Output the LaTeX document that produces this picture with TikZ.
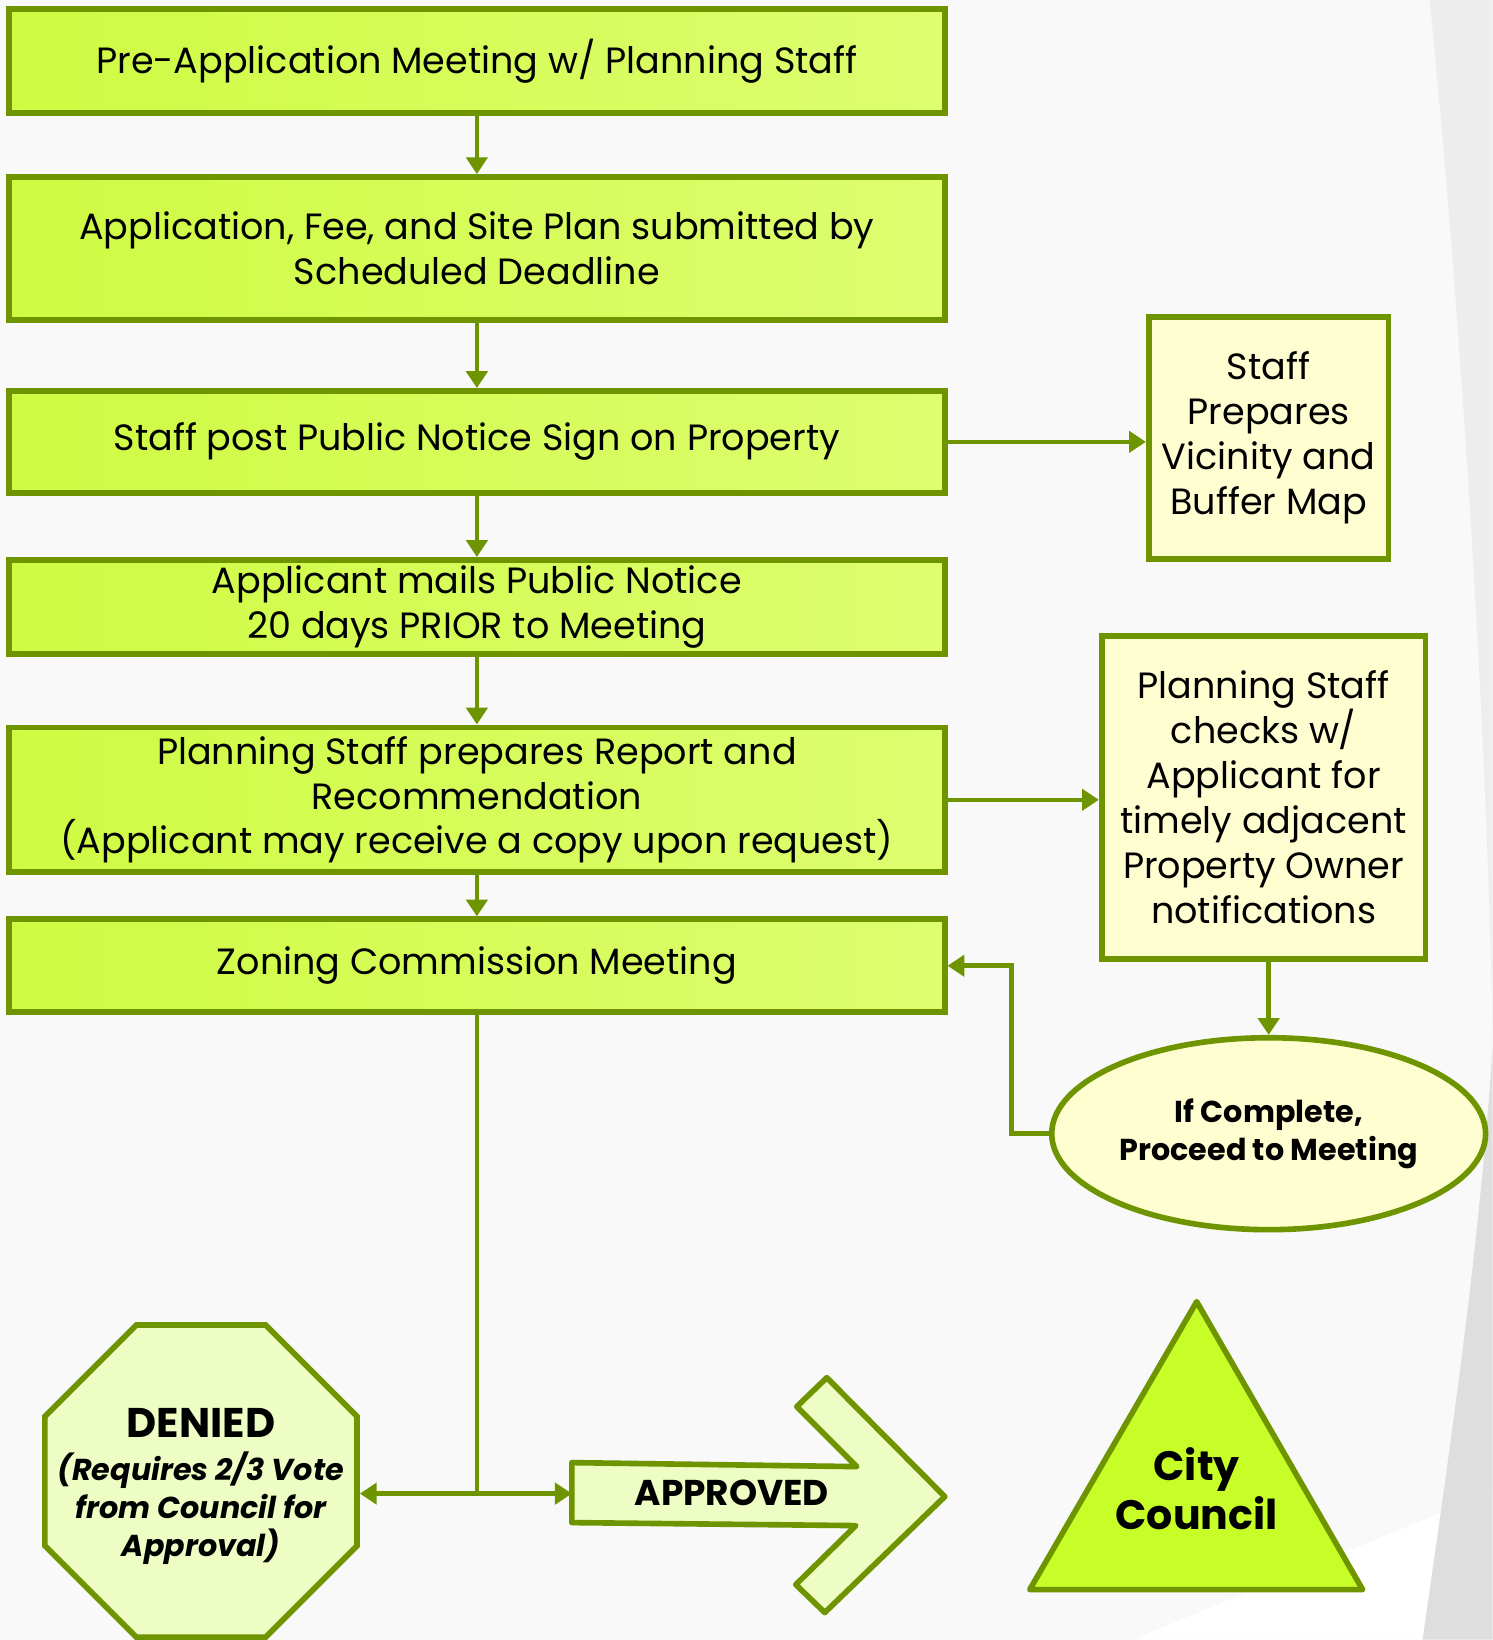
\documentclass[tikz,border=0pt]{standalone}
\usepackage{fontspec}
\setmainfont{Poppins}
\usepackage{tikz}
\usetikzlibrary{arrows.meta,shapes.geometric}
\definecolor{olivebd}{RGB}{110,148,0}
\definecolor{limefill}{RGB}{206,251,66}
\definecolor{limelight}{RGB}{222,253,112}
\definecolor{paleyel}{RGB}{254,254,208}
\definecolor{palegrn}{RGB}{238,253,196}
\definecolor{trifill}{RGB}{200,254,40}
\definecolor{bgray}{RGB}{249,249,249}

\begin{document}
\begin{tikzpicture}[x=0.1mm,y=-0.1mm,
    stepbox/.style={draw=olivebd,line width=1.6pt,left color=limefill,right color=limelight,minimum width=93.6mm,inner sep=0pt,align=center,font=\fontsize{10.4}{12.8}\selectfont},
    sidebox/.style={draw=olivebd,line width=1.6pt,fill=paleyel,inner sep=0pt,align=center,font=\fontsize{10.4}{12.8}\selectfont},
    arr/.style={olivebd,line width=1.3pt,-{Triangle[length=4.8pt,width=6pt]}}]
		\fill[bgray] (0,0) rectangle (1493,1640);
		\fill[black!7] (1430,0) .. controls (1465,350) and (1490,800) .. (1493,1046) -- (1493,0) -- cycle;
		\fill[white] (1133,1640) -- (1493,1492) -- (1493,1640) -- cycle;
		\fill[black!13] (1493,1046) .. controls (1480,1250) and (1450,1450) .. (1423,1640) -- (1493,1640) -- cycle;
		\node[stepbox,minimum height=10.4mm] (pre) at (477,61) {Pre-Application Meeting w/ Planning Staff};
		\node[stepbox,minimum height=14.3mm] (app) at (477,248.5) {Application, Fee, and Site Plan submitted by\\Scheduled Deadline};
		\node[stepbox,minimum height=10.2mm] (post) at (477,442) {Staff post Public Notice Sign on Property};
		\node[stepbox,minimum height=9.4mm] (mail) at (477,607) {Applicant mails Public Notice\\20 days PRIOR to Meeting};
		\node[stepbox,minimum height=14.5mm] (report) at (477,800) {Planning Staff prepares Report and\\Recommendation\\(Applicant may receive a copy upon request)};
		\node[stepbox,minimum height=9.3mm] (zoning) at (477,966) {Zoning Commission Meeting};
		\node[sidebox,minimum width=24mm,minimum height=24.2mm] (vic) at (1269,438) {Staff\\Prepares\\Vicinity and\\Buffer Map};
		\node[sidebox,minimum width=32.4mm,minimum height=32.3mm] (chk) at (1264,797.5) {Planning Staff\\checks w/\\Applicant for\\timely adjacent\\Property Owner\\notifications};
		\node[ellipse,draw=olivebd,line width=1.6pt,fill=paleyel,minimum width=43.4mm,minimum height=19.2mm,inner sep=0pt,align=center,font=\fontsize{8.6}{11}\selectfont\bfseries] (ell) at (1269,1134) {If Complete,\\Proceed to Meeting};
		\node[regular polygon,regular polygon sides=8,draw=olivebd,line width=1.6pt,fill=palegrn,minimum size=33.8mm,inner sep=0pt] (denied) at (201,1481.5) {};
		\node[align=center,font=\fontsize{8.6}{10.8}\selectfont\bfseries\itshape] (deniedtxt) at (201,1487) {{\upshape\fontsize{11.8}{10.8}\selectfont DENIED}\\[1.5pt](Requires 2/3 Vote\\from Council for\\Approval)};
		\fill[palegrn,draw=olivebd,line width=1.6pt,line join=round] (572,1463) -- (857,1467) -- (797,1407) -- (827,1378) -- (945,1497) -- (825,1613) -- (796,1585) -- (856,1526) -- (572,1523) -- cycle;
		\node[font=\fontsize{10.2}{13}\selectfont\bfseries] (apprtxt) at (732,1493) {APPROVED};
		\fill[trifill,draw=olivebd,line width=1.6pt,line join=round] (1197,1302) -- (1363,1590) -- (1030,1590) -- cycle;
		\node[align=center,font=\fontsize{11.7}{13.9}\selectfont\bfseries] (council) at (1197,1489) {City\\Council};
		\coordinate (split) at (477,1494);
		\coordinate (apptail) at (572,1494);
		\coordinate (fb) at (1012,1134);
		\draw[arr] (pre.south) -- (app.north);
		\draw[arr] (app.south) -- (post.north);
		\draw[arr] (post.south) -- (mail.north);
		\draw[arr] (mail.south) -- (report.north);
		\draw[arr] (report.south) -- (zoning.north);
		\draw[arr] (post.east) -- (post.east -| vic.west);
		\draw[arr] (report.east) -- (report.east -| chk.west);
		\draw[arr] (chk.south -| ell.north) -- (ell.north);
		\draw[arr] (ell.west) -- (fb) |- (zoning.east);
		\draw[olivebd,line width=1.3pt] (zoning.south) -- (split);
		\draw[arr] (split) -- (split -| denied.east);
		\draw[arr] (split) -- (apptail);
\end{tikzpicture}
\end{document}
